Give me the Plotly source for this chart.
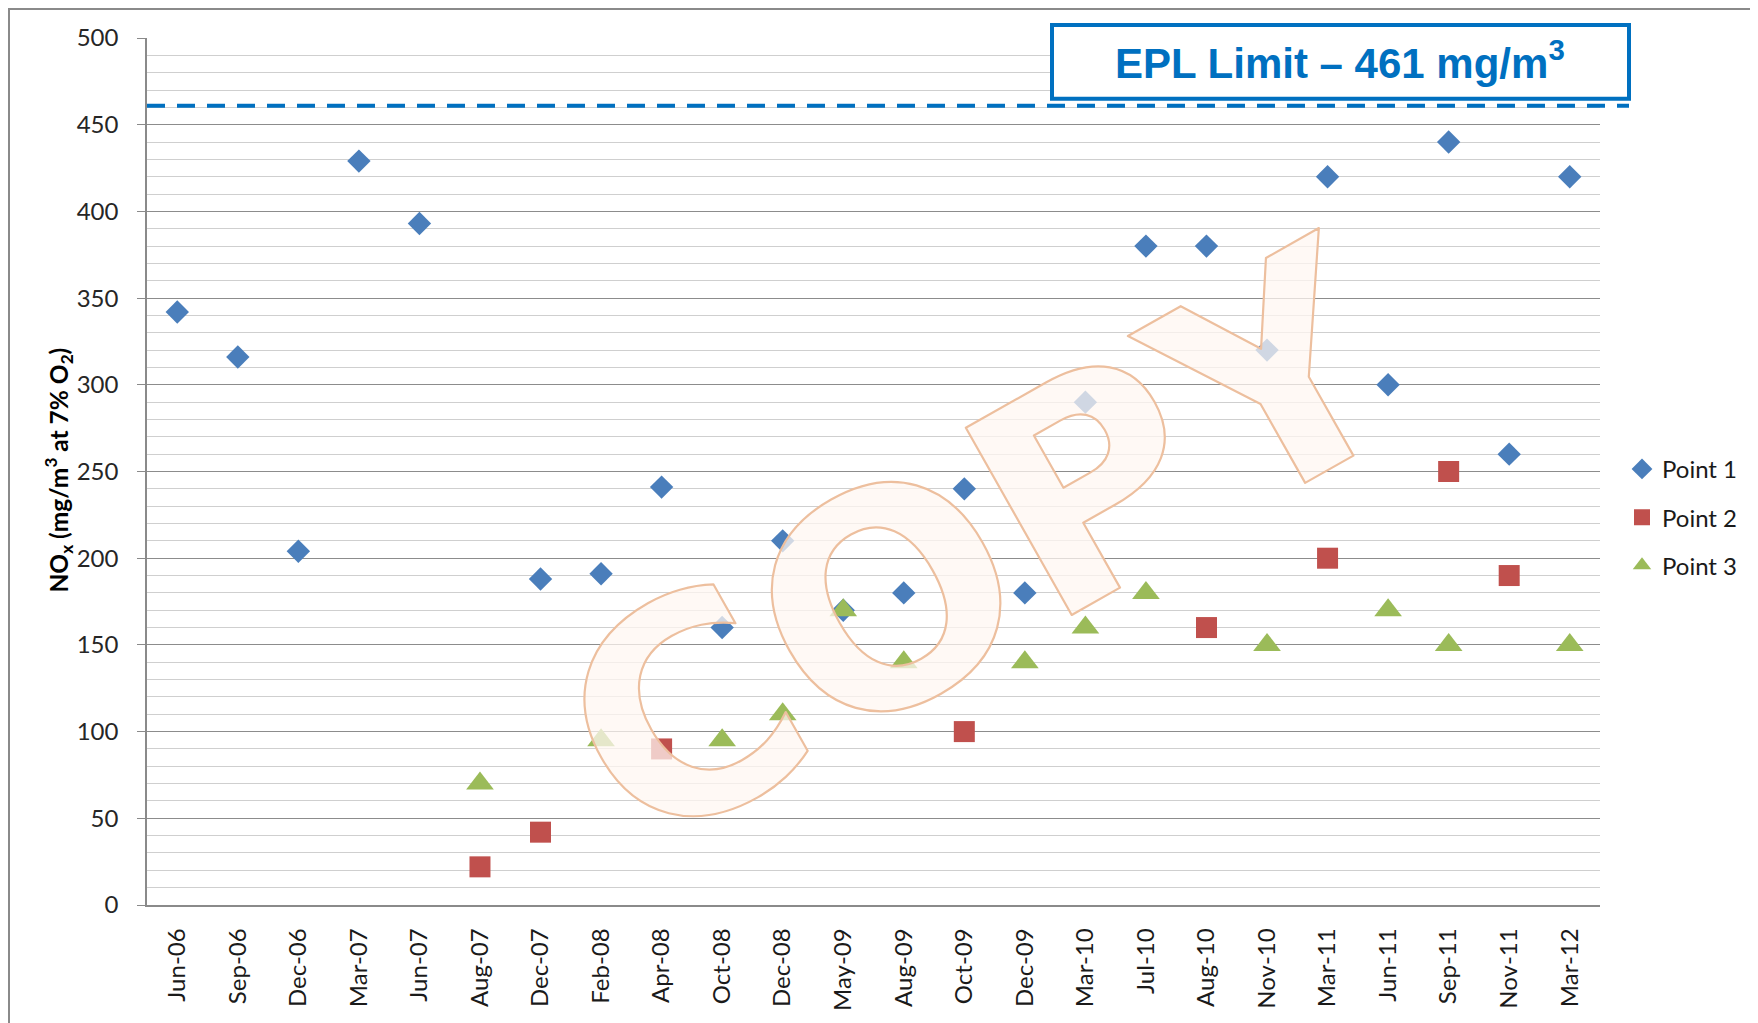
import plotly.graph_objects as go

categories = ["Jun-06", "Sep-06", "Dec-06", "Mar-07", "Jun-07", "Aug-07", "Dec-07", "Feb-08",
              "Apr-08", "Oct-08", "Dec-08", "May-09", "Aug-09", "Oct-09", "Dec-09", "Mar-10",
              "Jul-10", "Aug-10", "Nov-10", "Mar-11", "Jun-11", "Sep-11", "Nov-11", "Mar-12"]

point1 = [342, 316, 204, 429, 393, None, 188, 191, 241, 160, 210, 170,
          180, 240, 180, 290, 380, 380, 320, 420, 300, 440, 260, 420]
point2 = [None, None, None, None, None, 22, 42, None, 90, None, None, None,
          None, 100, None, None, None, 160, None, 200, None, 250, 190, None]
point3 = [None, None, None, None, None, 70, None, 95, None, 95, 110, 170,
          140, None, 140, 160, 180, None, 150, None, 170, 150, None, 150]

epl_limit = 461

# page has an 8px body margin; figure sized to fit the window
OFF = 8
W, H = 1758 - OFF, 1023 - OFF
L, T = 147 - OFF, 38 - OFF
R = W - (1600 - OFF)
B = H - (908 - OFF)
PW, PH = W - L - R, H - T - B


def px(xpage):
    return (xpage - OFF - L) / PW


def py(ypage):
    return (H - B - (ypage - OFF)) / PH


FONT = "Lato, Calibri, Carlito, 'Open Sans', sans-serif"

fig = go.Figure()
fig.add_trace(go.Scatter(x=categories, y=point1, mode="markers", name="Point 1",
                         legendgroup="g1",
                         marker=dict(symbol="diamond", size=18, color="#4A7EBB",
                                     line=dict(width=0))))
fig.add_trace(go.Scatter(x=categories, y=point2, mode="markers", name="Point 2",
                         legendgroup="g2",
                         marker=dict(symbol="square", size=21, color="#C0504D",
                                     line=dict(width=0))))
fig.add_trace(go.Scatter(x=categories, y=point3, mode="markers", name="Point 3",
                         legendgroup="g3",
                         marker=dict(symbol="triangle-up", size=24, color="#9BBB59",
                                     line=dict(width=0))))

fig.update_layout(
    width=W, height=H,
    margin=dict(l=L, r=R, t=T, b=B, pad=0),
    paper_bgcolor="white", plot_bgcolor="white",
    font=dict(family=FONT, size=24, color="#262626"),
    showlegend=True,
    legend=dict(x=px(1622), y=py(519), xanchor="left", yanchor="middle",
                traceorder="grouped", tracegroupgap=14,
                font=dict(family=FONT, size=24, color="#1a1a1a"),
                bgcolor="rgba(0,0,0,0)"),
    xaxis=dict(type="category", categoryorder="array", categoryarray=categories,
               range=[-0.5, len(categories) - 0.5],
               showgrid=False, zeroline=False,
               showline=True, linecolor="#8a8a8a", linewidth=1.5,
               ticks="", tickangle=-90, ticklabelstandoff=12,
               tickfont=dict(family=FONT, size=24, color="#1a1a1a")),
    yaxis=dict(range=[0, 500], dtick=50, tick0=0,
               showgrid=True, gridcolor="#8c8c8c", gridwidth=1.3,
               zeroline=False,
               showline=True, linecolor="#8a8a8a", linewidth=1.5,
               ticks="outside", ticklen=8, tickcolor="#8a8a8a", tickwidth=1.3,
               ticklabelstandoff=14,
               tickfont=dict(family=FONT, size=24, color="#262626"),
               minor=dict(dtick=10, showgrid=True, gridcolor="#cfcfcf", gridwidth=1.2,
                          ticks="")),
)

shapes = [
    # outer chart frame
    dict(type="rect", xref="paper", yref="paper",
         x0=px(9), x1=px(1800), y0=py(1060), y1=py(9),
         line=dict(color="#8a8a8a", width=2), fillcolor="rgba(0,0,0,0)", layer="below"),
    # EPL limit dashed line
    dict(type="line", xref="paper", yref="y",
         x0=0, x1=px(1629), y0=epl_limit, y1=epl_limit,
         line=dict(color="#0070C0", width=4, dash="18px,12px"), layer="above"),
    # EPL label box
    dict(type="rect", xref="paper", yref="paper",
         x0=px(1052), x1=px(1629), y0=py(99), y1=py(25),
         line=dict(color="#0070C0", width=4), fillcolor="white", layer="above"),
]
fig.update_layout(shapes=shapes)

annotations = [
    dict(text="EPL Limit – %d mg/m<sup>3</sup>" % epl_limit, xref="paper", yref="paper",
         x=px(1340), y=py(60), xanchor="center", yanchor="middle", showarrow=False,
         font=dict(family="'Liberation Sans', Arial, sans-serif", size=42,
                   color="#0070C0", weight="bold")),
    dict(text="<b>NO<sub>x</sub> (mg/m<sup>3</sup> at 7% O<sub>2</sub>)</b>",
         xref="paper", yref="paper", x=px(58), y=py(472),
         xanchor="center", yanchor="middle", textangle=-90, showarrow=False,
         font=dict(family=FONT, size=24.5, color="#000000")),
    dict(text='<span style="stroke:#EDBF9E;stroke-width:2.2px;stroke-linejoin:round">COPY</span>',
         xref="paper", yref="paper", x=px(983), y=py(550),
         xanchor="center", yanchor="middle", textangle=-29.5, showarrow=False,
         font=dict(family="'DejaVu Sans', sans-serif", size=295, weight="bold",
                   color="rgba(255,247,241,0.74)")),
]
fig.update_layout(annotations=annotations)

fig.write_html("out.html")
